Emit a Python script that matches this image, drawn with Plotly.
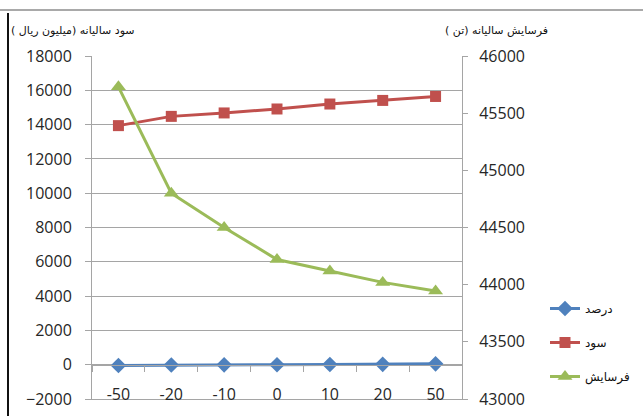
import plotly.graph_objects as go

# Scenario change (%) on the category axis
categories = ["-50", "-20", "-10", "0", "10", "20", "50"]
percent_change = [-50, -20, -10, 0, 10, 20, 50]
annual_profit = [13940, 14480, 14680, 14910, 15200, 15410, 15640]      # million rials
annual_erosion = [45730, 44800, 44500, 44220, 44120, 44020, 43945]     # tons

series_names = ["درصد", "سود", "فرسایش"]
left_title = "سود سالیانه (میلیون ریال )"
right_title = "فرسایش سالیانه (تن )"

BLUE, RED, GREEN = "#4F81BD", "#C0504D", "#9BBB59"
GRID = "#A5A5A5"
FA_FONT = "DejaVu Sans"
NUM_FONT = "Open Sans"
NBSP = "\u00a0"

W, H = 643, 416
L, R, T, B = 92, 181, 56, 17


def px_x(p):
    return (p - L) / (W - L - R)


def px_y(p):
    return (H - B - p) / (H - T - B)


# right-to-left labels: trailing spaces end up on the left, which lines the
# legend labels up along their right edge
pads = [4, 6, 1]
legend_labels = [s + NBSP * n for n, s in zip(pads, series_names)]

fig = go.Figure()

fig.add_trace(go.Scatter(
    x=categories, y=percent_change, name=legend_labels[0], legendgroup="a",
    mode="lines+markers", line=dict(color=BLUE, width=3),
    marker=dict(symbol="diamond", size=12, color=BLUE),
    xaxis="x", yaxis="y"))
fig.add_trace(go.Scatter(
    x=categories, y=annual_profit, name=legend_labels[1], legendgroup="b",
    mode="lines+markers", line=dict(color=RED, width=3),
    marker=dict(symbol="square", size=11, color=RED),
    xaxis="x", yaxis="y"))
fig.add_trace(go.Scatter(
    x=categories, y=annual_erosion, name=legend_labels[2], legendgroup="c",
    mode="lines+markers", line=dict(color=GREEN, width=3),
    marker=dict(symbol="triangle-up", size=13, color=GREEN),
    xaxis="x", yaxis="y2"))
# empty trace so the label axis gets its own subplot
fig.add_trace(go.Scatter(x=[], y=[], xaxis="x2", yaxis="y",
                         showlegend=False, hoverinfo="skip"))

fig.update_layout(
    width=W, height=H,
    margin=dict(l=L, r=R, t=T, b=B),
    paper_bgcolor="white", plot_bgcolor="white",
    font=dict(family=NUM_FONT, size=16, color="#262626"),
    showlegend=True,
    legend=dict(
        xref="container", yref="container",
        x=545 / W, y=1 - 294 / H, xanchor="left", yanchor="top",
        traceorder="grouped", tracegroupgap=15,
        font=dict(family=FA_FONT, size=12, color="#111"),
        bgcolor="rgba(0,0,0,0)", itemwidth=30,
    ),
    # category axis: line along y = 0 with ticks between categories
    xaxis=dict(
        type="category", categoryorder="array", categoryarray=categories,
        range=[-0.5, len(categories) - 0.5],
        anchor="free", position=0.1, automargin=False,
        showline=True, linecolor=GRID, linewidth=1,
        ticks="outside", tickson="boundaries", ticklen=6, tickcolor=GRID,
        showticklabels=False, showgrid=False, zeroline=False,
    ),
    # bottom border carrying the category labels, pulled up onto the plot
    xaxis2=dict(
        overlaying="x", anchor="y", side="bottom", automargin=False,
        range=[-0.5, len(categories) - 0.5],
        tickmode="array", tickvals=list(range(len(categories))), ticktext=categories,
        ticks="", ticklabelstandoff=-19,
        showline=True, linecolor=GRID, linewidth=1,
        showgrid=False, zeroline=False,
        tickfont=dict(family=NUM_FONT, size=16, color="#262626"),
    ),
    yaxis=dict(
        range=[-2000, 18000], dtick=2000, tick0=0, automargin=False,
        showgrid=True, gridcolor=GRID, gridwidth=1,
        showline=True, linecolor=GRID, linewidth=1,
        ticks="outside", ticklen=6, tickcolor=GRID, ticklabelstandoff=10,
        zeroline=False, tickformat="d",
    ),
    yaxis2=dict(
        overlaying="y", side="right", anchor="x", automargin=False,
        range=[43000, 46000], dtick=500,
        showgrid=False, zeroline=False,
        showline=True, linecolor=GRID, linewidth=1,
        ticks="outside", ticklen=5, tickcolor=GRID, ticklabelstandoff=8,
        tickformat="d",
    ),
)

# axis titles
fig.add_annotation(text=left_title, xref="paper", yref="paper",
                   x=px_x(73), y=px_y(30), xanchor="center", yanchor="middle",
                   showarrow=False,
                   font=dict(family=FA_FONT, size=11, color="#111"))
fig.add_annotation(text=right_title, xref="paper", yref="paper",
                   x=px_x(496), y=px_y(30), xanchor="center", yanchor="middle",
                   showarrow=False,
                   font=dict(family=FA_FONT, size=11, color="#111"))

# chart frame edges
fig.add_shape(type="line", xref="paper", yref="paper",
              x0=px_x(0), x1=px_x(W), y0=px_y(10), y1=px_y(10),
              line=dict(color="#8C8C8C", width=1.5))
fig.add_shape(type="line", xref="paper", yref="paper",
              x0=px_x(8), x1=px_x(8), y0=px_y(13), y1=px_y(H),
              line=dict(color="#111", width=2))

fig.write_html("out.html")
